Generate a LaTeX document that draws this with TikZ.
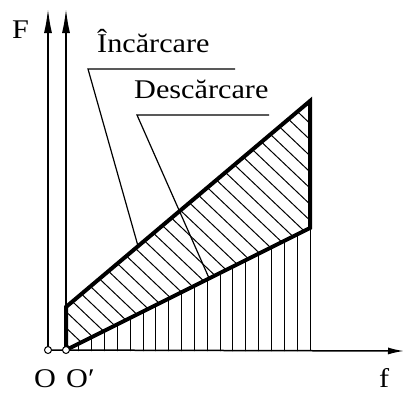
\documentclass[tikz,border=0pt]{standalone}
\usepackage{fontspec}
\setmainfont{Liberation Serif}
\newfontfamily\lblfont[FakeStretch=1.12]{Liberation Serif}
\usetikzlibrary{arrows.meta}
\begin{document}
\begin{tikzpicture}[x=1pt,y=-1pt,
  axisline/.style={line width=1.5pt},
  thickline/.style={line width=4pt, line join=miter},
  hatchline/.style={line width=1pt},
  leaderline/.style={line width=1.2pt},
  lbl/.style={font=\lblfont\fontsize{27}{30}\selectfont, inner sep=0pt},
  origin/.style={circle, draw, fill=white, minimum size=7pt, inner sep=0pt, line width=1pt}]
\useasboundingbox (0,0) rectangle (405,392);
% key points
\coordinate (Ftop) at (48,9);
\coordinate (Fptop) at (66,9);
\coordinate (fend) at (404,351);
\coordinate (A) at (66,307);
\coordinate (B) at (310,101);
\coordinate (C) at (310,228);
\coordinate (Cb) at (310,351);
\coordinate (Oc) at (48,350);
\coordinate (Opc) at (66,350);
% vertical hatching under unloading line
\begin{scope}
  \clip (66,351) -- (310,351) -- (C) -- (66,350) -- cycle;
  \foreach \k in {1,...,18} \draw[hatchline] (66+12.84*\k,360) -- ++(0,-260);
\end{scope}
\draw[hatchline] (C) -- (Cb);
% diagonal hatching between loading and unloading
\begin{scope}
  \clip (A) -- (B) -- (C) -- (Opc) -- cycle;
  \foreach \c in {-330,-313,...,210} \draw[hatchline] (\c,0) -- ++(500,475);
\end{scope}
% axes
\draw[axisline,-{Latex[length=24pt,width=8pt]}] (Oc) -- (Ftop);
\draw[axisline,-{Latex[length=24pt,width=8pt]}] (Opc) -- (Fptop);
\draw[axisline,-{Latex[length=16pt,width=7pt]}] (Oc) -- (fend);
% loading / unloading cycle
\draw[thickline] (Opc) -- (A) -- (B) -- (C) -- cycle;
% origin circles
\node[origin] (O) at (Oc) {};
\node[origin] (Op) at (Opc) {};
% labels
\node[lbl, anchor=base west] (lF) at (12,38) {F};
\node[lbl, anchor=base west] (lO) at (34,387) {O};
\node[lbl, anchor=base west] (lOp) at (66,387) {O′};
\node[lbl, anchor=base west] (lf) at (379,387) {f};
\node[lbl, anchor=base west] (linc) at (97,52) {Încărcare};
\node[lbl, anchor=base west] (ldesc) at (134,98) {Descărcare};
% leaders
\coordinate (L1) at (88,69);
\coordinate (L1e) at (235,69);
\coordinate (L1t) at (138,246);
\coordinate (L2) at (137,115);
\coordinate (L2e) at (269,115);
\coordinate (L2t) at (209,278);
\draw[leaderline] (L1e) -- (L1) -- (L1t);
\draw[leaderline] (L2e) -- (L2) -- (L2t);
\end{tikzpicture}
\end{document}
